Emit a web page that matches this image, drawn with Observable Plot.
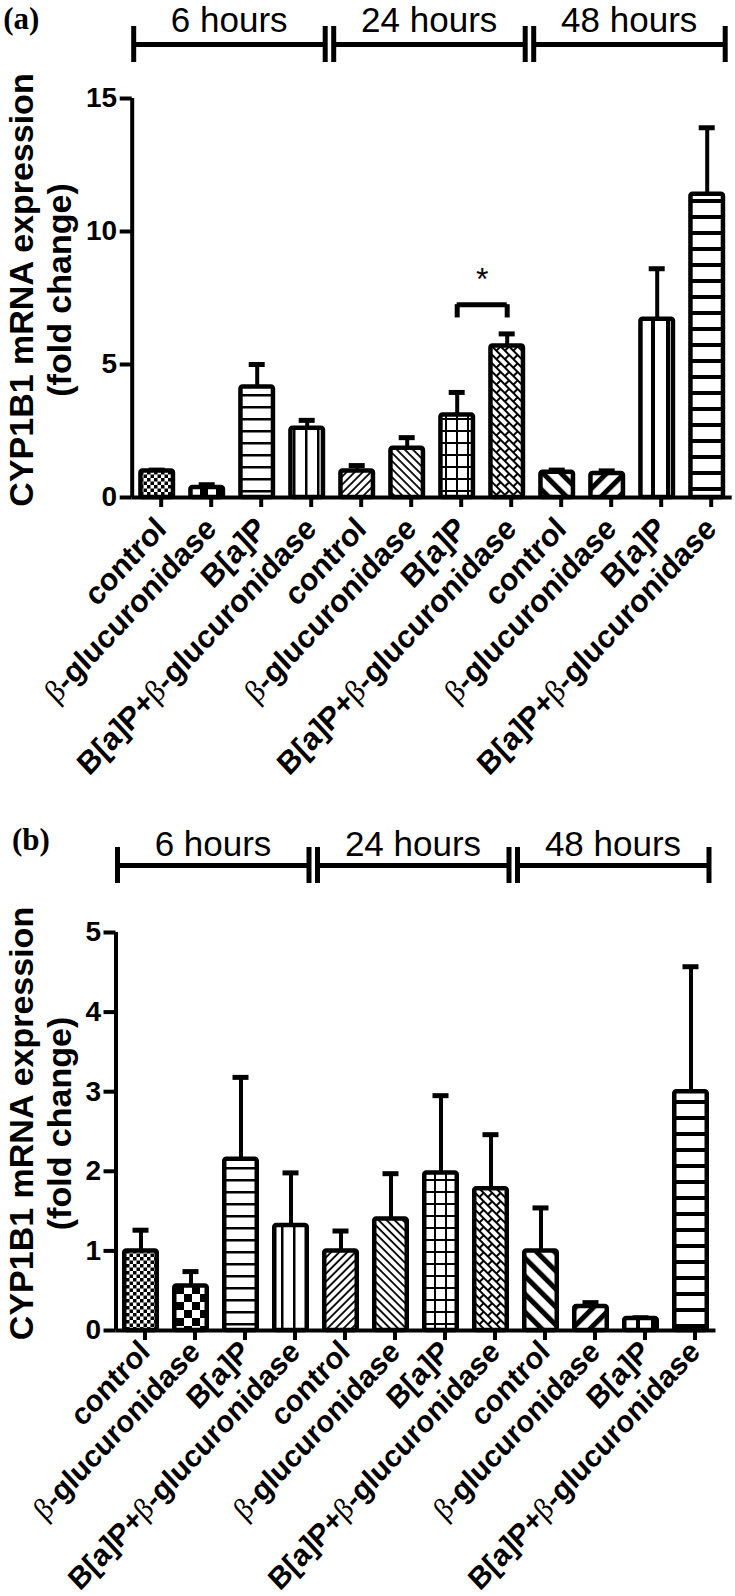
<!DOCTYPE html>
<html><head><meta charset="utf-8">
<script src="https://cdn.jsdelivr.net/npm/d3@7"></script>
<script src="https://cdn.jsdelivr.net/npm/@observablehq/plot@0.6"></script>
<style>
body{margin:0;background:#fff;}
#chart svg{display:block;}
</style></head><body>
<svg width="0" height="0" style="position:absolute">
<defs>
<pattern id="p0" patternUnits="userSpaceOnUse" width="7" height="7"><rect width="7" height="7" fill="#fff"/><rect width="3.5" height="3.5" fill="#000"/><rect x="3.5" y="3.5" width="3.5" height="3.5" fill="#000"/></pattern>
<pattern id="p1" patternUnits="userSpaceOnUse" width="16" height="16"><rect width="16" height="16" fill="#fff"/><rect width="8" height="8" fill="#000"/><rect x="8" y="8" width="8" height="8" fill="#000"/></pattern>
<pattern id="p2" patternUnits="userSpaceOnUse" width="10" height="12"><rect width="10" height="12" fill="#fff"/><rect y="5" width="10" height="2.5" fill="#000"/></pattern>
<pattern id="p3" patternUnits="userSpaceOnUse" width="12" height="10"><rect width="12" height="10" fill="#fff"/><rect x="5" width="2.5" height="10" fill="#000"/></pattern>
<pattern id="p4" patternUnits="userSpaceOnUse" width="5.7" height="10" patternTransform="rotate(45)"><rect width="5.7" height="10" fill="#fff"/><rect x="2" width="1.8" height="10" fill="#000"/></pattern>
<pattern id="p5" patternUnits="userSpaceOnUse" width="5.7" height="10" patternTransform="rotate(-45)"><rect width="5.7" height="10" fill="#fff"/><rect x="2" width="1.8" height="10" fill="#000"/></pattern>
<pattern id="p6" patternUnits="userSpaceOnUse" width="11" height="12"><rect width="11" height="12" fill="#fff"/><rect x="5" width="2" height="12" fill="#000"/><rect y="5" width="11" height="2" fill="#000"/></pattern>
<pattern id="p7" patternUnits="userSpaceOnUse" width="12" height="12" patternTransform="rotate(45)"><rect width="12" height="12" fill="#fff"/><rect y="0" width="12" height="2" fill="#000"/><rect y="6" width="12" height="2" fill="#000"/><rect x="0" y="0" width="2" height="6" fill="#000"/><rect x="6" y="6" width="2" height="6" fill="#000"/></pattern>
<pattern id="p8" patternUnits="userSpaceOnUse" width="12.7" height="10" patternTransform="rotate(-45)"><rect width="12.7" height="10" fill="#fff"/><rect x="4" width="5" height="10" fill="#000"/></pattern>
<pattern id="p9" patternUnits="userSpaceOnUse" width="12.7" height="10" patternTransform="rotate(45)"><rect width="12.7" height="10" fill="#fff"/><rect x="4" width="5" height="10" fill="#000"/></pattern>
<pattern id="p10" patternUnits="userSpaceOnUse" width="15" height="10"><rect width="15" height="10" fill="#fff"/><rect x="6" width="4" height="10" fill="#000"/></pattern>
<pattern id="p11" patternUnits="userSpaceOnUse" width="10" height="16"><rect width="10" height="16" fill="#fff"/><rect y="6" width="10" height="4" fill="#000"/></pattern>
</defs>
</svg>
<div id="chart"></div>
<script>
// ---- data ----
const categories = [
  "control", "β-glucuronidase", "B[a]P", "B[a]P+β-glucuronidase",
  "control", "β-glucuronidase", "B[a]P", "B[a]P+β-glucuronidase",
  "control", "β-glucuronidase", "B[a]P", "B[a]P+β-glucuronidase"
];
const timeGroups = ["6 hours", "24 hours", "48 hours"];
const groupFirst = [0, 4, 8];
const groupLast = [3, 7, 11];

const valuesA = [1.0, 0.38, 4.15, 2.6, 1.0, 1.85, 3.1, 5.7, 0.95, 0.9, 6.7, 11.4];
const errorsA = [0.03, 0.1, 0.85, 0.3, 0.2, 0.4, 0.85, 0.45, 0.08, 0.1, 1.9, 2.5];
const yTicksA = [0, 5, 10, 15];

const valuesB = [1.0, 0.56, 2.15, 1.32, 1.0, 1.4, 1.98, 1.78, 1.0, 0.3, 0.15, 3.0];
const errorsB = [0.26, 0.18, 1.03, 0.66, 0.25, 0.57, 0.97, 0.68, 0.54, 0.05, 0.01, 1.57];
const yTicksB = [0, 1, 2, 3, 4, 5];

const significanceA = [{from: 6, to: 7, y: 7.25, leg: 6.75, label: "*", labelY: 7.8}];
const yTitle = "CYP1B1 mRNA expression\n(fold change)";

// ---- drawing ----
const SANS = "'Liberation Sans', Arial, sans-serif";
const SERIF = "'Liberation Serif', 'Times New Roman', serif";

function serifBeta(svg) {
  svg.querySelectorAll("text, tspan").forEach(t => {
    if (t.children.length === 0 && t.textContent.includes("β")) {
      const parts = t.textContent.split("β");
      t.textContent = "";
      parts.forEach((p, k) => {
        if (k > 0) {
          const ts = document.createElementNS("http://www.w3.org/2000/svg", "tspan");
          ts.setAttribute("font-family", SERIF);
          ts.setAttribute("font-weight", "normal");
          ts.textContent = "β";
          t.appendChild(ts);
        }
        if (p) t.appendChild(document.createTextNode(p));
      });
    }
  });
  return svg;
}

// screen-space stretch of text glyphs around their anchor (the source figure's type is anisotropic)
function stretch(nodes, sx, sy) {
  nodes.forEach(t => {
    const tr = t.getAttribute("transform");
    if (tr && /translate\(/.test(tr)) {
      t.setAttribute("transform", tr.replace(/(translate\([^)]*\))/, `$1 scale(${sx},${sy})`));
    } else {
      const x = parseFloat(t.getAttribute("x")) || 0, y = parseFloat(t.getAttribute("y")) || 0;
      t.setAttribute("transform", `translate(${x},${y}) scale(${sx},${sy}) translate(${-x},${-y})` + (tr ? " " + tr : ""));
    }
  });
}

function header(cfg) {
  const groups = timeGroups.map((g, k) => ({label: g, first: groupFirst[k], last: groupLast[k]}));
  const svg = Plot.plot({
    width: 735, height: 65,
    marginLeft: cfg.marginLeft, marginRight: cfg.marginRight, marginTop: 26, marginBottom: 3,
    x: {domain: [-0.5, 11.5], axis: null},
    y: {domain: [-1, 1], axis: null},
    style: {fontFamily: SANS, color: "#000", background: "#fff"},
    marks: [
      Plot.ruleY(groups, {x1: d => d.first - 0.5, x2: d => d.last + 0.5, y: 0, stroke: "#000", strokeWidth: 5, insetLeft: 1.5, insetRight: 7}),
      Plot.ruleX(groups, {x: d => d.first - 0.5, y1: -1, y2: 1, stroke: "#000", strokeWidth: 5, dx: 1.5}),
      Plot.ruleX(groups, {x: d => d.last + 0.5, y1: -1, y2: 1, stroke: "#000", strokeWidth: 5, dx: -7}),
      Plot.text(groups, {x: d => (d.first + d.last) / 2, y: 1, text: "label", lineAnchor: "bottom", dy: cfg.textDy, dx: -3, fontSize: 35, fontFamily: SANS, fill: "#000", ariaLabel: "time-label"}),
      Plot.text([cfg.panelLabel], {x: -0.5, y: 1, text: d => d, textAnchor: "start", lineAnchor: "bottom", dx: cfg.labelDx, dy: cfg.labelDy, fontSize: 31, fontWeight: "bold", fontFamily: SERIF, fill: "#000"})
    ]
  });
  stretch(svg.querySelectorAll('g[aria-label="time-label"] text'), 0.9, 1.1);
  return svg;
}

function panel(cfg) {
  const data = categories.map((c, i) => ({i, c, v: cfg.values[i], e: cfg.errors[i]}));
  const ymax = cfg.yTicks[cfg.yTicks.length - 1];
  const sig = cfg.sig || [];
  const svg = Plot.plot({
    width: 735, height: cfg.height,
    marginLeft: cfg.marginLeft, marginRight: cfg.marginRight, marginTop: cfg.marginTop, marginBottom: cfg.marginBottom,
    x: {domain: [-0.5, 11.5]},
    y: {domain: [0, ymax]},
    color: {type: "identity"},
    style: {fontFamily: SANS, color: "#000", background: "#fff"},
    marks: [
      Plot.ruleX(data, {x: "i", y1: "v", y2: d => d.v + d.e, stroke: "#000", strokeWidth: 4}),
      Plot.ruleY(data, {x1: d => d.i - 0.16, x2: d => d.i + 0.16, y: d => d.v + d.e, stroke: "#000", strokeWidth: 5}),
      Plot.rect(data, {x1: d => d.i - 0.325, x2: d => d.i + 0.325, y1: 0, y2: "v", fill: d => `url(#p${d.i})`, stroke: "#000", strokeWidth: 4.5, rx: 2}),
      Plot.ruleX([-0.5], {y1: 0, y2: ymax, stroke: "#000", strokeWidth: 4}),
      Plot.ruleY([0], {stroke: "#000", strokeWidth: 4}),
      Plot.ruleY(sig, {x1: "from", x2: "to", y: "y", stroke: "#000", strokeWidth: 5}),
      Plot.ruleX(sig, {x: "from", y1: "leg", y2: "y", stroke: "#000", strokeWidth: 5}),
      Plot.ruleX(sig, {x: "to", y1: "leg", y2: "y", stroke: "#000", strokeWidth: 5}),
      Plot.text(sig, {x: d => (d.from + d.to) / 2, y: "labelY", text: "label", lineAnchor: "bottom", fontSize: 32, fill: "#000"}),
      Plot.axisY({ticks: cfg.yTicks, tickFormat: d => String(d), tickSize: 12, tickPadding: 3, stroke: "#000", strokeWidth: 4, fontSize: 28, fontWeight: "bold", label: null, fill: "#000"}),
      Plot.axisX({ticks: d3.range(categories.length), tickFormat: i => categories[i], tickRotate: -45, tickSize: 10, tickPadding: cfg.labelPadding, dx: 4, stroke: "#000", strokeWidth: 4, fontSize: cfg.labelSize, fontWeight: "bold", label: null, fill: "#000", ariaLabel: "x-axis"}),
      Plot.text([yTitle], {frameAnchor: "left", text: d => d, rotate: -90, textAnchor: "middle", dx: 39 - cfg.marginLeft, dy: -8, lineAnchor: "middle", lineHeight: 1.12, fontSize: 34, fontWeight: "bold", fill: "#000", ariaLabel: "y-title"})
    ]
  });
  stretch(svg.querySelectorAll('g[aria-label="x-axis tick label"] text'), 0.93, 1.0);
  stretch(svg.querySelectorAll('g[aria-label="y-title"] text'), 1.0, 0.985);
  return serifBeta(svg);
}

const root = document.getElementById("chart");
root.appendChild(header({marginLeft: 131.7, marginRight: 3.3, textDy: 5, panelLabel: "(a)", labelDx: -129, labelDy: 2}));
root.appendChild(panel({values: valuesA, errors: errorsA, yTicks: yTicksA, sig: significanceA,
  height: 756, marginLeft: 131.7, marginRight: 3.3, marginTop: 33, marginBottom: 324, labelSize: 32, labelPadding: 16}));
root.appendChild(header({marginLeft: 115.5, marginRight: 19.5, textDy: 8, panelLabel: "(b)", labelDx: -104, labelDy: 2}));
root.appendChild(panel({values: valuesB, errors: errorsB, yTicks: yTicksB,
  height: 710, marginLeft: 115.5, marginRight: 19.5, marginTop: 46, marginBottom: 266, labelSize: 31, labelPadding: 6}));
</script>
</body></html>
